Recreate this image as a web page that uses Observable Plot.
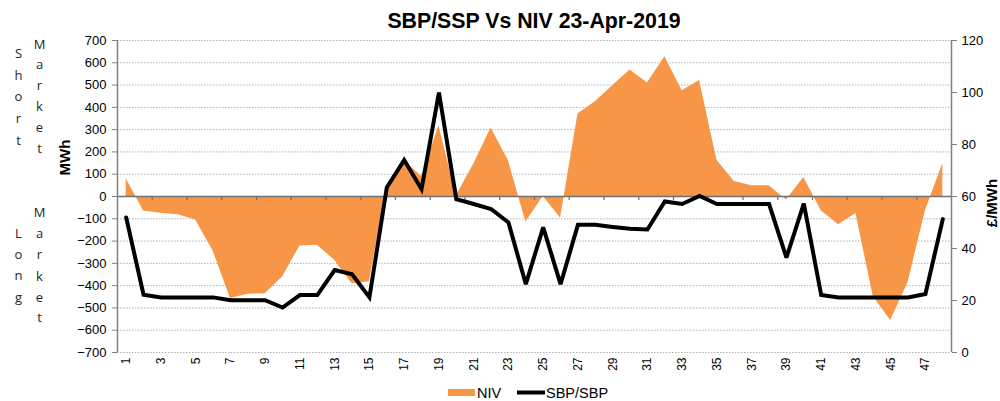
<!DOCTYPE html>
<html>
<head>
<meta charset="utf-8">
<script src="https://cdn.jsdelivr.net/npm/d3@7"></script>
<script src="https://cdn.jsdelivr.net/npm/@observablehq/plot@0.6"></script>
<style>
  html, body { margin: 0; padding: 0; background: #fff; }
  #wrap { position: relative; width: 1000px; height: 401px; overflow: hidden; }
  #wrap > svg { position: absolute; left: 0; top: 0; }
</style>
</head>
<body>
<div id="wrap"></div>
<script>
// ---- Data ----
const periods = [1,2,3,4,5,6,7,8,9,10,11,12,13,14,15,16,17,18,19,20,21,22,23,24,
                 25,26,27,28,29,30,31,32,33,34,35,36,37,38,39,40,41,42,43,44,45,46,47,48];
const niv = [80,-65,-75,-82,-105,-244,-458,-439,-436,-361,-222,-219,-286,-391,-382,45,
             160,90,318,3,145,307,160,-114,0,-97,370,425,497,568,509,627,
             475,520,163,67,48,48,-16,85,-64,-127,-76,-450,-556,-386,-64,148];
const sbp = [51.9,22.2,21.2,21.2,21.2,21.2,20.1,20.1,20.1,17.3,22.1,22.1,31.7,30.1,21.2,63.5,
             74,62.8,100,59,57.1,55.2,50,26.3,48.1,26.3,49.1,49.1,48.3,47.6,47.3,58.1,
             57.1,60.2,57.1,57.1,57.1,57.1,36.5,57.3,22.1,21.2,21.2,21.2,21.2,21.2,22.5,51.3];
const leftTicks = [-700,-600,-500,-400,-300,-200,-100,0,100,200,300,400,500,600,700];
const rightTicks = [0,20,40,60,80,100,120];
const xTickLabels = [1,3,5,7,9,11,13,15,17,19,21,23,25,27,29,31,33,35,37,39,41,43,45,47];
const title = "SBP/SSP Vs NIV 23-Apr-2019";
const seriesNames = ["NIV", "SBP/SBP"];
const leftTitle = "MWh";
const rightTitle = "£/MWh";
const shortWords = ["Short", "Market"];
const longWords = ["Long", "Market"];

// ---- Build ----
const ORANGE = "#F79646";
const leftDomain = [leftTicks[0], leftTicks[leftTicks.length - 1]];
const rightDomain = [rightTicks[0], rightTicks[rightTicks.length - 1]];
const toLeft = d3.scaleLinear().domain(rightDomain).range(leftDomain);
const rows = periods.map((p, i) => ({period: p, niv: niv[i], sbp: sbp[i], sbpL: toLeft(sbp[i])}));
const xDomain = [periods[0] - 0.5, periods[periods.length - 1] + 0.5];
const bounds = periods.filter(p => p % 2 === 0 && p < periods[periods.length - 1]).map(p => p + 0.5);

const FONT = "'Liberation Sans', Arial, Helvetica, sans-serif";

const chart = Plot.plot({
  width: 1000,
  height: 401,
  marginTop: 40,
  marginBottom: 49,
  marginLeft: 117,
  marginRight: 49,
  style: {fontFamily: FONT, fontSize: "13px", color: "#000", background: "transparent", overflow: "visible"},
  x: {type: "linear", domain: xDomain},
  y: {domain: leftDomain},
  marks: [
    Plot.gridY(leftTicks, {stroke: "#b0b0b0", strokeOpacity: 1, strokeDasharray: "1.5,1.5"}),
    Plot.areaY(rows, {x: "period", y: "niv", fill: ORANGE}),
    Plot.ruleY([0], {stroke: "#707070", strokeWidth: 1.4}),
    Plot.ruleX(bounds, {y1: 0, y2: 0, insetBottom: -4, stroke: "#707070", strokeWidth: 1.2}),
    Plot.ruleX(xDomain, {stroke: "#808080", strokeWidth: 1.5}),
    Plot.axisY(leftTicks, {anchor: "left", tickSize: 5, tickPadding: 6, fontSize: 13, label: null, stroke: "#808080"}),
    Plot.axisY(rightTicks.map(v => toLeft(v)), {anchor: "right", tickSize: 5, tickPadding: 5, fontSize: 13, label: null,
      stroke: "#808080", tickFormat: d => String(Math.round(toLeft.invert(d)))}),
    Plot.axisX(xTickLabels, {anchor: "bottom", tickSize: 0, tickPadding: 5, tickRotate: -90, fontSize: 12, label: null}),
    Plot.lineY(rows, {x: "period", y: "sbpL", stroke: "#000", strokeWidth: 4, strokeLinejoin: "miter", strokeMiterlimit: 3})
  ]
});
document.getElementById("wrap").appendChild(chart);

// ---- Title, side labels and legend (overlay) ----
const ov = d3.select("#wrap").append("svg")
  .attr("width", 1000).attr("height", 401)
  .style("pointer-events", "none")
  .style("font-family", FONT);

ov.append("text").attr("x", 534).attr("y", 28.3).attr("text-anchor", "middle")
  .attr("font-size", 21.3).attr("font-weight", "bold").attr("fill", "#000").text(title);

ov.append("text").attr("transform", "translate(70,157.5) rotate(-90)").attr("text-anchor", "middle")
  .attr("font-size", 15).attr("font-weight", "bold").attr("fill", "#000").text(leftTitle);
ov.append("text").attr("transform", "translate(997,203) rotate(-90)").attr("text-anchor", "middle")
  .attr("font-size", 15).attr("font-weight", "bold").attr("fill", "#000").text(rightTitle);

function stacked(word, x, ys) {
  Array.from(word).forEach((ch, i) => {
    ov.append("text").attr("x", x).attr("y", ys[i]).attr("text-anchor", "middle")
      .attr("dominant-baseline", "central")
      .attr("font-family", "'Open Sans', 'Noto Sans', sans-serif").attr("font-size", 13)
      .attr("fill", "#262626").text(ch);
  });
}
stacked(shortWords[0], 18.5, [53, 75, 96, 118, 140]);
stacked(shortWords[1], 39.5, [44, 64, 85, 106, 127, 148]);
stacked(longWords[0], 18.5, [233, 254, 275, 297]);
stacked(longWords[1], 39.5, [212, 233, 254, 276, 297, 317]);

// legend
ov.append("rect").attr("x", 448).attr("y", 389).attr("width", 27).attr("height", 7).attr("fill", ORANGE);
ov.append("text").attr("x", 477).attr("y", 398).attr("font-size", 14.5).attr("fill", "#000").text(seriesNames[0]);
ov.append("line").attr("x1", 517).attr("x2", 545).attr("y1", 392.5).attr("y2", 392.5)
  .attr("stroke", "#000").attr("stroke-width", 4);
ov.append("text").attr("x", 546).attr("y", 398).attr("font-size", 14.5).attr("fill", "#000").text(seriesNames[1]);
</script>
</body>
</html>
